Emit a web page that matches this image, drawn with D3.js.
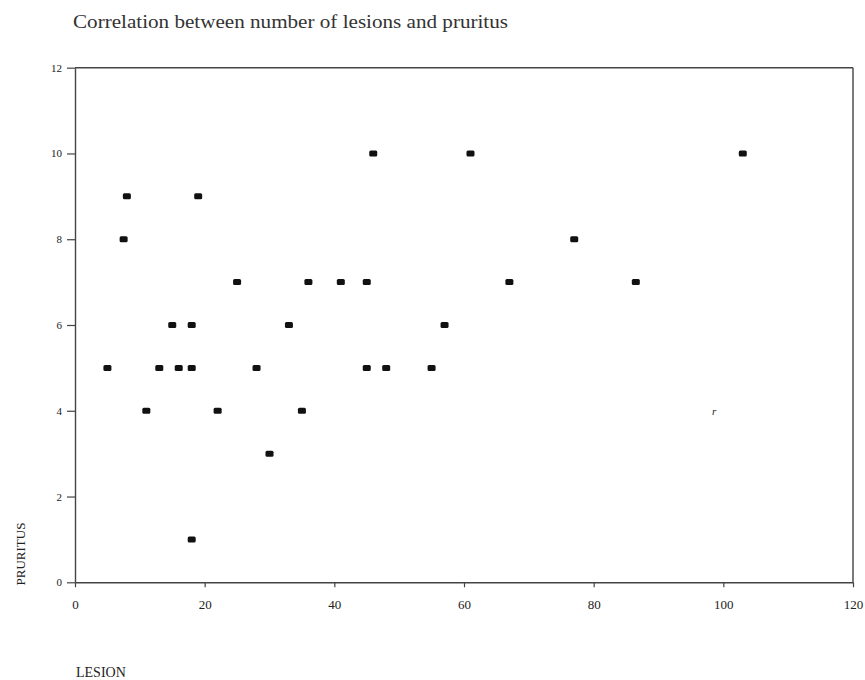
<!DOCTYPE html>
<html>
<head>
<meta charset="utf-8">
<script src="https://cdn.jsdelivr.net/npm/d3@7"></script>
<style>
  html, body { margin: 0; padding: 0; background: #fff; }
  svg { display: block; }
  text { font-family: "Liberation Serif", "DejaVu Serif", serif; fill: #222; }
</style>
</head>
<body>
<svg id="chart" width="865" height="680"></svg>
<script>
// ---- data ----
const lesion   = [5, 7.5, 8, 11, 13, 15, 16, 18, 18, 18, 19, 22, 25, 28, 30, 33, 35, 36, 41, 45, 45, 46, 48, 55, 57, 61, 67, 77, 86.5, 103];
const pruritus = [5, 8,   9, 4,  5,  6,  5,  6,  5,  1,  9,  4,  7,  5,  3,  6,  4,  7,  7,  7,  5,  10, 5,  5,  6,  10, 7,  8,  7,    10];
const xTicks = [0, 20, 40, 60, 80, 100, 120];
const yTicks = [0, 2, 4, 6, 8, 10, 12];
const titleText = "Correlation between number of lesions and pruritus";
const xLabel = "LESION";
const yLabel = "PRURITUS";
const annotations = [{ x: 98.6, y: 3.9, text: "r" }];

const svg = d3.select("#chart");
const x = d3.scaleLinear().domain([0, 120]).range([75, 853]);
const y = d3.scaleLinear().domain([0, 12]).range([582.3, 67.7]);
const axisColor = "#444";

// title
svg.append("text")
  .attr("x", 73).attr("y", 28)
  .attr("font-size", 19)
  .attr("textLength", 435).attr("lengthAdjust", "spacingAndGlyphs")
  .style("fill", "#333")
  .text(titleText);

// frame (top and right)
svg.append("line").attr("x1", x(0)).attr("x2", x(120)).attr("y1", y(12)).attr("y2", y(12))
  .attr("stroke", axisColor).attr("stroke-width", 1.4);
svg.append("line").attr("x1", x(120)).attr("x2", x(120)).attr("y1", y(12)).attr("y2", y(0))
  .attr("stroke", axisColor).attr("stroke-width", 1.4);

// x axis
const gx = svg.append("g").attr("transform", `translate(0,${y(0)})`)
  .call(d3.axisBottom(x).tickValues(xTicks).tickSize(5).tickSizeOuter(0).tickPadding(12));
// y axis
const gy = svg.append("g").attr("transform", `translate(${x(0)},0)`)
  .call(d3.axisLeft(y).tickValues(yTicks).tickSize(8).tickSizeOuter(0).tickPadding(5));

[gx, gy].forEach(g => {
  g.select(".domain").attr("stroke", axisColor).attr("stroke-width", 1.4);
  g.selectAll(".tick line").attr("stroke", axisColor).attr("stroke-width", 1.2);
  g.selectAll(".tick text").attr("font-family", "Liberation Serif, serif").attr("fill", "#222");
});
gx.selectAll(".tick text").attr("font-size", 13);
gy.selectAll(".tick text").attr("font-size", 11);

// points
const pts = lesion.map((v, i) => ({ x: v, y: pruritus[i] }));
svg.append("g").selectAll("rect").data(pts).join("rect")
  .attr("x", d => x(d.x) - 4)
  .attr("y", d => y(d.y) - 3)
  .attr("width", 8).attr("height", 6)
  .attr("rx", 1.5)
  .attr("fill", "#111");

// stray annotation
svg.append("g").selectAll("text").data(annotations).join("text")
  .attr("x", d => x(d.x)).attr("y", d => y(d.y))
  .attr("font-size", 11).attr("font-style", "italic")
  .attr("text-anchor", "middle")
  .text(d => d.text);

// axis titles
svg.append("text")
  .attr("transform", `translate(25,554) rotate(-90)`)
  .attr("text-anchor", "middle")
  .attr("font-size", 13)
  .text(yLabel);
svg.append("text")
  .attr("x", 76).attr("y", 677)
  .attr("font-size", 14)
  .text(xLabel);
</script>
</body>
</html>
